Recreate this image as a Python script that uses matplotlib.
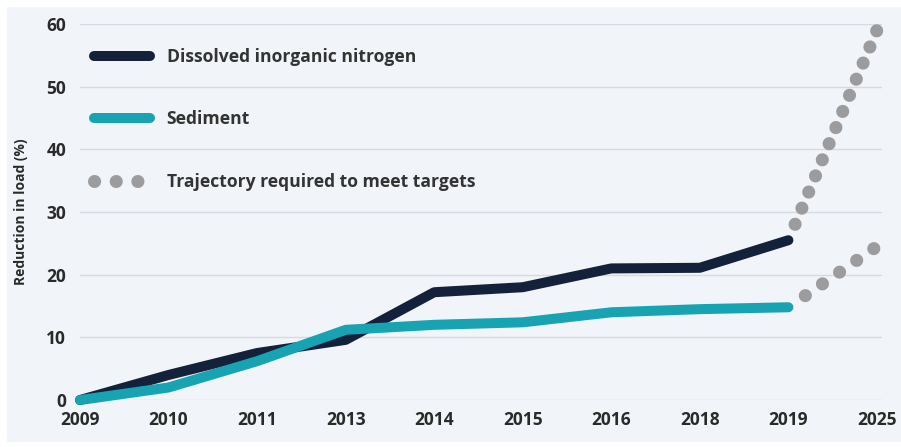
import matplotlib.pyplot as plt
from matplotlib.lines import Line2D
from matplotlib.patches import Rectangle

plt.rcParams['font.family'] = ['Open Sans', 'DejaVu Sans']

# data
years = ['2009', '2010', '2011', '2013', '2014', '2015', '2016', '2018', '2019', '2025']
din = [0, 4, 7.5, 9.6, 17.2, 18, 21, 21.1, 25.5]
sediment = [0, 2, 6.2, 11.2, 12, 12.4, 14, 14.5, 14.8]
din_target = [25.5, 59]
sediment_target = [14.8, 24.5]

navy = '#14213a'
teal = '#17a3b1'
grey = '#9c9c9e'
panel = '#f1f4f8'

fig = plt.figure(figsize=(9.01, 4.47), dpi=100, facecolor='white')
fig.patches.append(Rectangle((0.0078, 0.011), 0.9922, 0.973, transform=fig.transFigure,
                             facecolor=panel, edgecolor='none', zorder=-10))
ax = fig.add_axes([0.0888, 0.1051, 0.890, 0.8412])
ax.patch.set_visible(False)

x = list(range(len(years)))
n = len(din)

# targets as dotted trajectories (tiny dashes + round caps = dots),
# offset so the first dot sits clear of the line end
ax.plot([x[n - 1], x[-1]], din_target, color=grey, lw=9.4,
        linestyle=(0.02, (0.01, 1.33)), dash_capstyle='round', clip_on=False, zorder=2)
ax.plot([x[n - 1], x[-1]], sediment_target, color=grey, lw=9.4,
        linestyle=(0.02, (0.01, 1.58)), dash_capstyle='round', clip_on=False, zorder=2)

ax.plot(x[:n], din, color=navy, lw=7.2, solid_capstyle='round',
        solid_joinstyle='round', clip_on=False, zorder=3)
ax.plot(x[:n], sediment, color=teal, lw=7.2, solid_capstyle='round',
        solid_joinstyle='round', clip_on=False, zorder=4)

ax.set_xlim(0, 9.056)
ax.set_ylim(0, 60)
ax.set_xticks(x)
ax.set_xticklabels(years)
ax.set_yticks(range(0, 61, 10))
ax.tick_params(length=0, labelsize=12.5, labelcolor='#2a2a2a')
ax.tick_params(axis='x', pad=8)
ax.tick_params(axis='y', pad=10)
for lab in ax.get_xticklabels() + ax.get_yticklabels():
    lab.set_fontweight('bold')
ax.grid(axis='y', color='#d6dae1', lw=1)
ax.set_axisbelow(True)
for s in ax.spines.values():
    s.set_visible(False)
ax.set_ylabel('Reduction in load (%)', fontsize=10, fontweight='bold',
              color='#2a2a2a', labelpad=13)

handles = [
    Line2D([], [], color=navy, lw=7.2, solid_capstyle='round'),
    Line2D([], [], color=teal, lw=7.2, solid_capstyle='round'),
    Line2D([], [], color=grey, lw=9.4, linestyle=(0, (0.01, 1.65)), dash_capstyle='round'),
]
labels = ['Dissolved inorganic nitrogen', 'Sediment', 'Trajectory required to meet targets']
leg = ax.legend(handles, labels, loc='upper left', bbox_to_anchor=(0.0175, 0.937),
                frameon=False, borderpad=0, borderaxespad=0, handlelength=3.2,
                handletextpad=0.95, labelspacing=2.55,
                prop={'size': 12.6, 'weight': 'bold'})
for t in leg.get_texts():
    t.set_color('#333333')

fig.savefig('out.png', dpi=100, facecolor='white')
